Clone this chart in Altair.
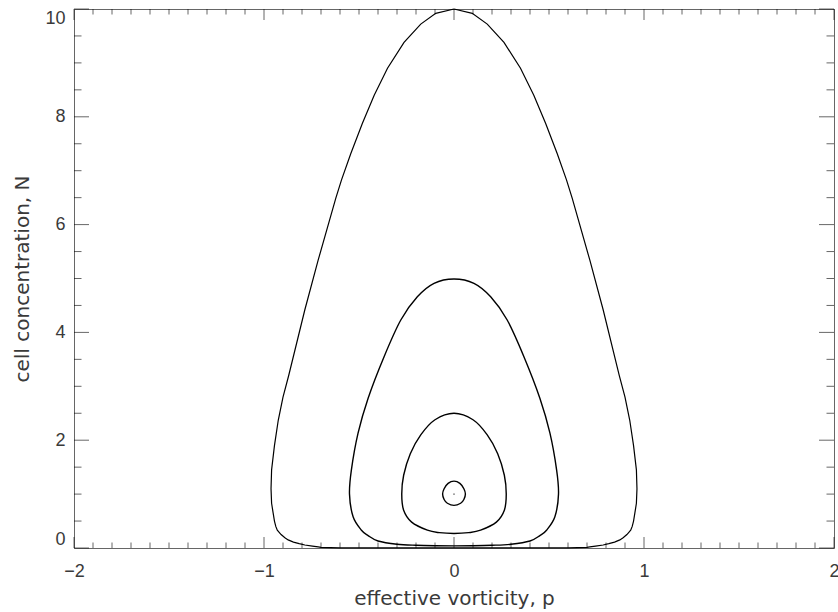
import altair as alt
import pandas as pd

# Outer orbit in the (p, N) phase plane, traced clockwise from the top.
orbit_a_p = [0.0, 0.096, 0.175, 0.263, 0.35, 0.42, 0.482, 0.543, 0.592, 0.622,
             0.715, 0.785, 0.87, 0.90, 0.925, 0.945, 0.96, 0.963, 0.96, 0.952,
             0.945, 0.938, 0.93, 0.91, 0.89, 0.873, 0.845, 0.815, 0.785, 0.745,
             0.715, 0.70, 0.65, 0.60, 0.45, 0.30, 0.15,
             0.0,
             -0.15, -0.30, -0.45, -0.60, -0.65, -0.70, -0.715, -0.745, -0.785,
             -0.815, -0.845, -0.873, -0.89, -0.91, -0.93, -0.938, -0.945,
             -0.952, -0.96, -0.963, -0.96, -0.945, -0.925, -0.90, -0.87,
             -0.785, -0.715, -0.622, -0.592, -0.543, -0.482, -0.42, -0.35,
             -0.263, -0.175, -0.096, 0.0]
orbit_a_n = [10.0, 9.92, 9.72, 9.38, 8.9, 8.40, 7.88, 7.32, 6.83, 6.49,
             5.34, 4.42, 3.2, 2.8, 2.37, 1.9, 1.45, 1.1, 0.83, 0.65,
             0.5, 0.4, 0.33, 0.25, 0.19, 0.15, 0.11, 0.08, 0.056, 0.035,
             0.02, 0.013, 0.007, 0.004, 0.002, 0.001, 0.0007,
             0.0005,
             0.0007, 0.001, 0.002, 0.004, 0.007, 0.013, 0.02, 0.035, 0.056,
             0.08, 0.11, 0.15, 0.19, 0.25, 0.33, 0.4, 0.5,
             0.65, 0.83, 1.1, 1.45, 1.9, 2.37, 2.8, 3.2,
             4.42, 5.34, 6.49, 6.83, 7.32, 7.88, 8.40, 8.9,
             9.38, 9.72, 9.92, 10.0]

# Inner orbits, clockwise from the top (drawn as smooth closed curves)
orbit_b_p = [0.0, 0.105, 0.193, 0.28, 0.368, 0.452, 0.505, 0.54, 0.55, 0.531,
             0.487, 0.452, 0.40, 0.30, 0.20, 0.10, 0.0,
             -0.10, -0.20, -0.30, -0.40, -0.452, -0.487, -0.531, -0.55, -0.54,
             -0.505, -0.452, -0.368, -0.28, -0.193, -0.105]
orbit_b_n = [4.99, 4.91, 4.66, 4.23, 3.55, 2.78, 2.13, 1.45, 1.0, 0.58,
             0.33, 0.23, 0.13, 0.07, 0.05, 0.042, 0.04,
             0.042, 0.05, 0.07, 0.13, 0.23, 0.33, 0.58, 1.0, 1.45,
             2.13, 2.78, 3.55, 4.23, 4.66, 4.91]

orbit_c_p = [0.0, 0.10, 0.175, 0.23, 0.265, 0.275, 0.265, 0.223, 0.14, 0.077, 0.0,
             -0.077, -0.14, -0.223, -0.265, -0.275, -0.265, -0.23, -0.175, -0.10]
orbit_c_n = [2.5, 2.38, 2.1, 1.75, 1.35, 1.0, 0.7, 0.48, 0.33, 0.285, 0.27,
             0.285, 0.33, 0.48, 0.7, 1.0, 1.35, 1.75, 2.1, 2.38]

orbit_d_p = [0.0, 0.031, 0.052, 0.06, 0.052, 0.035, 0.0,
             -0.035, -0.052, -0.06, -0.052, -0.031]
orbit_d_n = [1.24, 1.2, 1.1, 1.0, 0.9, 0.83, 0.79,
             0.83, 0.9, 1.0, 1.1, 1.2]

# Fixed point at the centre of the orbits
fixed_p = [0.0]
fixed_n = [1.0]

# Axis ticks
x_major = [-2, -1, 0, 1, 2]
x_minor = [round(-2 + 0.1 * i, 1) for i in range(41) if i % 10]
y_major = [0, 2, 4, 6, 8, 10]
y_minor = [0.5 * i for i in range(21) if i % 4]

W, H = 760, 539
LABEL_FONT = "Liberation Sans"
TITLE_FONT = "DejaVu Sans"
INK = "#000000"
TEXT = "#3a3a3a"


def orbit_frame(ps, ns, name):
    return pd.DataFrame({"p": ps, "N": ns, "orbit": name, "k": list(range(len(ps)))})


outer = orbit_frame(orbit_a_p, orbit_a_n, "a")
inner = pd.concat([orbit_frame(orbit_b_p, orbit_b_n, "b"),
                   orbit_frame(orbit_c_p, orbit_c_n, "c"),
                   orbit_frame(orbit_d_p, orbit_d_n, "d")], ignore_index=True)

x_scale = alt.Scale(domain=[-2, 2], nice=False, zero=False)
y_scale = alt.Scale(domain=[0, 10], nice=False, zero=False)

x_axis = alt.Axis(values=x_major, format="d", domain=False, ticks=False, grid=False,
                  labelFont=LABEL_FONT, labelFontSize=18, labelColor=TEXT,
                  labelPadding=14, labelFlush=False,
                  title="effective vorticity, p", titleFont=TITLE_FONT,
                  titleFontSize=20, titleFontWeight="normal", titleColor=TEXT,
                  titlePadding=8)
y_axis = alt.Axis(values=y_major, format="d", domain=False, ticks=False, grid=False,
                  labelFont=LABEL_FONT, labelFontSize=18, labelColor=TEXT,
                  labelPadding=9, labelFlush=True, labelFlushOffset=0,
                  title="cell concentration, N", titleFont=TITLE_FONT,
                  titleFontSize=20, titleFontWeight="normal", titleColor=TEXT,
                  titlePadding=12)

outer_line = alt.Chart(outer).mark_line(color=INK, strokeWidth=1.2).encode(
    x=alt.X("p:Q", scale=x_scale, axis=x_axis),
    y=alt.Y("N:Q", scale=y_scale, axis=y_axis),
    order="k:Q",
)

inner_lines = alt.Chart(inner).mark_line(
    color=INK, strokeWidth=1.4, interpolate="cardinal-closed"
).encode(
    x=alt.X("p:Q", scale=x_scale),
    y=alt.Y("N:Q", scale=y_scale),
    detail="orbit:N",
    order="k:Q",
)

centre = alt.Chart(pd.DataFrame({"p": fixed_p, "N": fixed_n})).mark_square(
    color="#555", size=2, opacity=1
).encode(x=alt.X("p:Q", scale=x_scale), y=alt.Y("N:Q", scale=y_scale))

TICK_STYLE = dict(color=INK, strokeWidth=1, opacity=0.6)


def x_ticks(values, length):
    src = alt.Chart(pd.DataFrame({"v": values}))
    bottom = src.mark_rule(**TICK_STYLE).encode(
        x=alt.X("v:Q", scale=x_scale), y=alt.value(H), y2=alt.value(H - length))
    top = src.mark_rule(**TICK_STYLE).encode(
        x=alt.X("v:Q", scale=x_scale), y=alt.value(0), y2=alt.value(length))
    return [bottom, top]


def y_ticks(values, length):
    src = alt.Chart(pd.DataFrame({"v": values}))
    left = src.mark_rule(**TICK_STYLE).encode(
        y=alt.Y("v:Q", scale=y_scale), x=alt.value(0), x2=alt.value(length))
    right = src.mark_rule(**TICK_STYLE).encode(
        y=alt.Y("v:Q", scale=y_scale), x=alt.value(W), x2=alt.value(W - length))
    return [left, right]


tick_layers = (x_ticks(x_major, 11) + x_ticks(x_minor, 5.5)
               + y_ticks(y_major, 15) + y_ticks(y_minor, 7.5))

chart = alt.layer(*tick_layers, outer_line, inner_lines, centre).properties(
    width=W, height=H,
    padding={"left": 74, "top": 9, "right": 4, "bottom": 64},
    autosize="none",
    background="white",
).configure_view(
    stroke=INK, strokeOpacity=0.6, strokeWidth=1
)

chart.save("out.html", embed_options={"renderer": "svg", "actions": False})
